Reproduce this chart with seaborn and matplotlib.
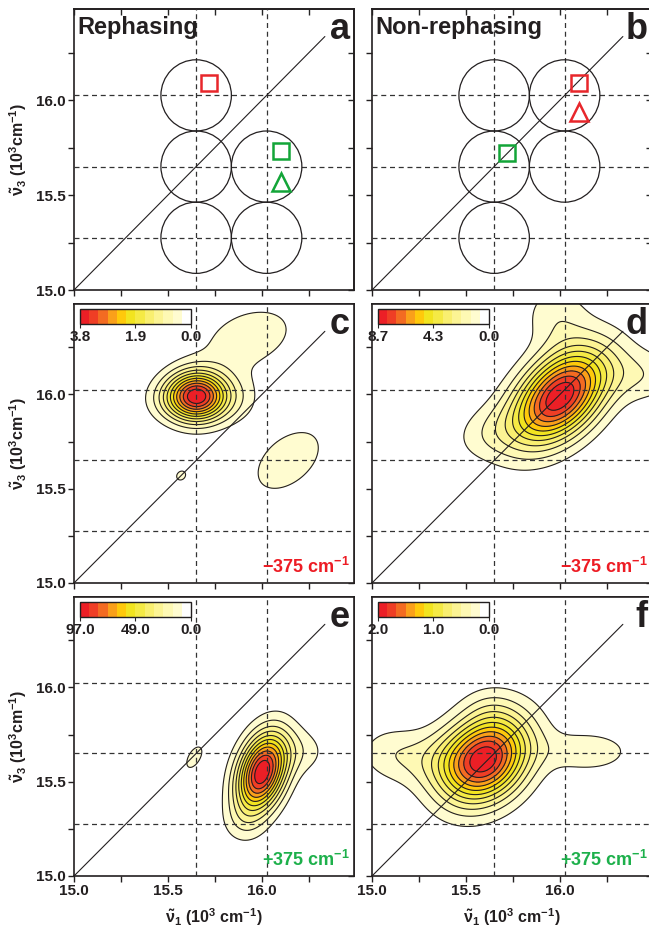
import numpy as np
import matplotlib
matplotlib.use("Agg")
import matplotlib.pyplot as plt
from matplotlib.colors import ListedColormap
from matplotlib.patches import Circle
import seaborn as sns

sns.set_theme(style="ticks")
plt.rcParams["font.family"] = ["Liberation Sans", "DejaVu Sans"]
plt.rcParams["font.weight"] = "bold"
plt.rcParams["mathtext.fontset"] = "custom"
plt.rcParams["mathtext.rm"] = "Liberation Sans:bold"
plt.rcParams["mathtext.it"] = "Liberation Sans:bold"
plt.rcParams["mathtext.bf"] = "Liberation Sans:bold"

# grid of excitation / detection frequencies (10^3 cm^-1), spaced by 375 cm^-1
grid_pos = [15.275, 15.65, 16.025]
circles_a = [(15.65, 16.025), (15.65, 15.65), (16.025, 15.65), (15.65, 15.275), (16.025, 15.275)]
circles_b = [(15.65, 16.025), (16.025, 16.025), (15.65, 15.65), (16.025, 15.65), (15.65, 15.275)]

# markers: (x, y, marker, colour)
marks_a = [(15.72, 16.09, "s", "#E8262B"), (16.10, 15.73, "s", "#13A538"), (16.10, 15.57, "^", "#13A538")]
marks_b = [(16.10, 16.09, "s", "#E8262B"), (16.10, 15.94, "^", "#E8262B"), (15.72, 15.72, "s", "#13A538")]

# peaks: x0, y0, sigma_major, sigma_minor, angle (deg), rel. amplitude
peaks_c = [[15.655, 15.99, 0.11, 0.09, 0, 0.95],
           [15.50, 15.97, 0.10, 0.08, 0, 0.08],
           [15.88, 15.98, 0.10, 0.10, 0, 0.08],
           [15.93, 16.30, 0.20, 0.12, 20, 0.14],
           [16.14, 15.65, 0.18, 0.11, 40, 0.14],
           [15.57, 15.57, 0.06, 0.05, 45, 0.09]]
peaks_d = [[16.00, 15.99, 0.21, 0.13, 45, 0.90],
           [15.62, 15.80, 0.14, 0.10, 20, 0.10],
           [15.98, 16.42, 0.12, 0.12, 0, 0.12],
           [16.45, 16.10, 0.15, 0.10, 0, 0.12]]
peaks_e = [[16.00, 15.55, 0.15, 0.085, 72, 0.95],
           [16.22, 15.66, 0.10, 0.09, 0, 0.10],
           [15.90, 15.28, 0.08, 0.08, 0, 0.07],
           [15.64, 15.63, 0.12, 0.06, 60, 0.09]]
peaks_f = [[15.60, 15.62, 0.18, 0.14, 45, 0.90],
           [15.30, 15.62, 0.18, 0.11, 0, 0.12],
           [15.08, 15.66, 0.12, 0.10, 0, 0.08],
           [16.15, 15.66, 0.17, 0.08, 0, 0.13],
           [15.62, 15.90, 0.10, 0.08, 0, 0.05]]

vmax_c, vmax_d, vmax_e, vmax_f = 3.8, 8.7, 97.0, 2.0
cbar_labels_c = ["3.8", "1.9", "0.0"]
cbar_labels_d = ["8.7", "4.3", "0.0"]
cbar_labels_e = ["97.0", "49.0", "0.0"]
cbar_labels_f = ["2.0", "1.0", "0.0"]

palette = ["#FFFFFF", "#FFFCD0", "#FEF9B4", "#FCF494", "#F9EF70", "#F5EA45",
           "#F2E41F", "#FFC90B", "#FAA01A", "#F36B22", "#EF3E25", "#EC1F26"]
cmap = ListedColormap(palette)

RED = "#ED1C24"
GREEN = "#1DB04B"
XLIM = (15.0, 16.49)
YLIM = (15.0, 16.48)

xs = np.linspace(15.0, 16.5, 400)
X, Y = np.meshgrid(xs, xs)


def field(peaks):
    Z = np.zeros_like(X)
    for x0, y0, s1, s2, ang, amp in peaks:
        t = np.deg2rad(ang)
        u = (X - x0) * np.cos(t) + (Y - y0) * np.sin(t)
        v = -(X - x0) * np.sin(t) + (Y - y0) * np.cos(t)
        Z += amp * np.exp(-0.5 * ((u / s1) ** 2 + (v / s2) ** 2))
    return Z


fig = plt.figure(figsize=(6.49, 9.33), dpi=100)
W = 280 / 649
lefts = [74 / 649, 372 / 649]
rows = [(1 - 290 / 933, 281 / 933), (1 - 583 / 933, 279 / 933), (1 - 876 / 933, 279 / 933)]


def base(ax, col, row):
    ax.set_xlim(*XLIM)
    ax.set_ylim(*YLIM)
    for s in ax.spines.values():
        s.set_linewidth(1.2)
        s.set_color("#231F20")
    major = [15.0, 15.5, 16.0]
    minor = [15.25, 15.75, 16.25]
    ax.set_xticks(major)
    ax.set_xticks(minor, minor=True)
    ax.set_yticks(major)
    ax.set_yticks(minor, minor=True)
    ax.tick_params(which="both", direction="out", length=4, width=1, color="#231F20",
                   labelsize=11, pad=2, labelcolor="#231F20")
    ax.set_xticklabels(["15.0", "15.5", "16.0"], fontweight="bold")
    ax.set_yticklabels(["15.0", "15.5", "16.0"], fontweight="bold")
    if row != 2:
        ax.tick_params(labelbottom=False)
    if col != 0:
        ax.tick_params(labelleft=False)
    tx = ax.secondary_xaxis("top")
    tx.set_xticks(major + minor)
    tx.tick_params(direction="in", length=4, width=1, labeltop=False)
    ty = ax.secondary_yaxis("right")
    ty.set_yticks(major + minor)
    ty.tick_params(direction="in", length=4, width=1, labelright=False)
    # dashed grid at the 375 cm-1 spacing
    for p in grid_pos[1:]:
        ax.axvline(p, color="#333333", lw=0.9, dashes=(4, 3), zorder=3)
    for p in grid_pos:
        ax.axhline(p, color="#333333", lw=0.9, dashes=(4, 3), zorder=3)
    diag = np.array([15.0, 16.335])
    sns.lineplot(x=diag, y=diag, ax=ax, color="#231F20", lw=0.8, zorder=4)
    if col == 0:
        ax.set_ylabel(r"$\tilde{\nu}_3$ (10$^3$cm$^{-1}$)", fontsize=11.5, fontweight="bold",
                      labelpad=5, color="#231F20")
    if row == 2:
        ax.set_xlabel(r"$\tilde{\nu}_1$ (10$^3$ cm$^{-1}$)", fontsize=11.5, fontweight="bold",
                      labelpad=6, color="#231F20")
    letter = "abcdef"[row * 2 + col]
    ax.text(0.985, 0.99, letter, transform=ax.transAxes, ha="right", va="top",
            fontsize=26, fontweight="bold", color="#231F20", zorder=10)


axes = {}
for r in range(3):
    for c in range(2):
        ax = fig.add_axes([lefts[c], rows[r][0], W, rows[r][1]])
        axes[(r, c)] = ax

# panels a, b : schematics
for col, circ, marks, title in [(0, circles_a, marks_a, "Rephasing"),
                                (1, circles_b, marks_b, "Non-rephasing")]:
    ax = axes[(0, col)]
    base(ax, col, 0)
    for cx, cy in circ:
        ax.add_patch(Circle((cx, cy), 0.1875, fill=False, ec="#231F20", lw=0.9, zorder=5))
    for mx, my, mk, mc in marks:
        ax.plot(mx, my, marker=mk, ms=12 if mk == "s" else 13, mfc="none", mec=mc, mew=1.8,
                ls="none", zorder=6)
    ax.text(0.012, 0.975, title, transform=ax.transAxes, ha="left", va="top",
            fontsize=17, fontweight="bold", color="#231F20", zorder=10)

# panels c-f : 2D maps
maps = [((1, 0), peaks_c, vmax_c, cbar_labels_c, "\u2212375 cm$^{-1}$", RED),
        ((1, 1), peaks_d, vmax_d, cbar_labels_d, "\u2212375 cm$^{-1}$", RED),
        ((2, 0), peaks_e, vmax_e, cbar_labels_e, "+375 cm$^{-1}$", GREEN),
        ((2, 1), peaks_f, vmax_f, cbar_labels_f, "+375 cm$^{-1}$", GREEN)]
for (r, c), peaks, vmax, labs, tag, tcol in maps:
    ax = axes[(r, c)]
    Z = field(peaks)
    Z = Z / Z.max() * vmax
    levels = np.linspace(0, vmax, 13)
    cf = ax.contourf(X, Y, Z, levels=levels, cmap=cmap, zorder=1)
    ax.contour(X, Y, Z, levels=levels[1:-1], colors="#231F20", linewidths=0.8, zorder=2)
    base(ax, c, r)
    cax = ax.inset_axes([0.021, 0.928, 0.397, 0.054])
    cb = fig.colorbar(cf, cax=cax, orientation="horizontal")
    cax.set_xlim(vmax, 0)
    cb.set_ticks([vmax, vmax / 2, 0])
    cb.set_ticklabels(labs)
    cb.outline.set_linewidth(1.0)
    cb.outline.set_edgecolor("#231F20")
    cax.tick_params(length=3, width=0.8, labelsize=11, pad=1, labelcolor="#231F20")
    for t in cax.get_xticklabels():
        t.set_fontweight("bold")
    ax.text(0.985, 0.02, tag, transform=ax.transAxes, ha="right", va="bottom",
            fontsize=13, fontweight="bold", color=tcol, zorder=10)

fig.savefig("out.png", dpi=100)
